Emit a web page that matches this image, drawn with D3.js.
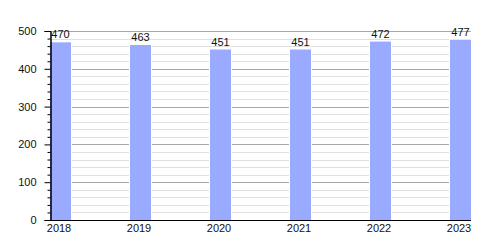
<!DOCTYPE html>
<html lang="en">
<head>
<meta charset="UTF-8">
<title>Bar chart</title>
<script src="https://cdn.jsdelivr.net/npm/d3@7"></script>
<style>
  body { margin: 0; background: #fff; }
  text { font-family: "Liberation Sans", Arial, sans-serif; }
</style>
</head>
<body>
<svg width="500" height="250" id="mainsvg"></svg>
<script>
const years = ['2018', '2019', '2020', '2021', '2022', '2023'];
const values = [470, 463, 451, 451, 472, 477];
const majorTicks = [0, 100, 200, 300, 400, 500];

const svg = d3.select('#mainsvg');
const plotLeft = 50, plotRight = 471, plotTop = 31, plotBottom = 220;

const x = d3.scaleBand()
    .domain(years)
    .range([plotLeft, plotRight])
    .paddingInner(0.7375)
    .paddingOuter(0);
const y = d3.scaleLinear()
    .domain([0, 500])
    .range([plotBottom, plotTop]);

const minorTicks = d3.range(0, 501, 20).filter(v => v % 100 !== 0);

// grid lines
svg.append('g').selectAll('line').data(minorTicks).join('line')
    .attr('x1', plotLeft).attr('x2', plotRight)
    .attr('y1', d => Math.round(y(d)) + 0.5).attr('y2', d => Math.round(y(d)) + 0.5)
    .attr('stroke', '#e0e0e0');
svg.append('g').selectAll('line').data(majorTicks.filter(d => d > 0)).join('line')
    .attr('x1', plotLeft).attr('x2', plotRight)
    .attr('y1', d => Math.round(y(d)) + 0.5).attr('y2', d => Math.round(y(d)) + 0.5)
    .attr('stroke', '#a8a8a8');

// bars (white halo keeps the grid off their edges)
svg.append('g').selectAll('rect').data(values).join('rect')
    .attr('x', (d, i) => x(years[i]))
    .attr('y', d => y(d))
    .attr('width', x.bandwidth())
    .attr('height', d => plotBottom - y(d))
    .attr('fill', '#99aaff')
    .attr('stroke', '#fff')
    .attr('stroke-width', 2);

svg.append('g').selectAll('rect').data(values).join('rect')
    .attr('x', (d, i) => x(years[i]))
    .attr('y', d => y(d))
    .attr('width', x.bandwidth())
    .attr('height', d => plotBottom - y(d))
    .attr('fill', '#99aaff');

// value labels
svg.append('g').selectAll('text').data(values).join('text')
    .attr('x', (d, i) => x(years[i]) + x.bandwidth() / 2)
    .attr('y', d => y(d) - 4)
    .attr('text-anchor', 'middle')
    .attr('font-size', 11)
    .attr('fill', '#111')
    .text(d => d);

// y axis
const yAxis = svg.append('g')
    .attr('transform', `translate(${plotLeft + 0.5},0)`);
yAxis.call(d3.axisLeft(y).tickValues(minorTicks).tickSize(3).tickFormat(''));
yAxis.append('g').call(d3.axisLeft(y).tickValues(majorTicks).tickSize(6).tickPadding(8).tickFormat(d3.format('d')));
yAxis.selectAll('.domain').attr('stroke', '#000');
yAxis.selectAll('line').attr('stroke', '#000');
yAxis.selectAll('text')
    .attr('font-size', 11)
    .attr('fill', '#111')
    .style('font-family', '"Liberation Sans", Arial, sans-serif');

// x axis
const xAxis = svg.append('g')
    .attr('transform', `translate(0,${plotBottom + 0.5})`)
    .call(d3.axisBottom(x).tickSize(0).tickPadding(4));
xAxis.select('.domain').attr('stroke', '#000').attr('d', `M${plotLeft},0H${plotRight}`);
xAxis.selectAll('text')
    .attr('dx', -1.5)
    .attr('font-size', 11)
    .attr('fill', '#111')
    .style('font-family', '"Liberation Sans", Arial, sans-serif');
</script>
</body>
</html>
